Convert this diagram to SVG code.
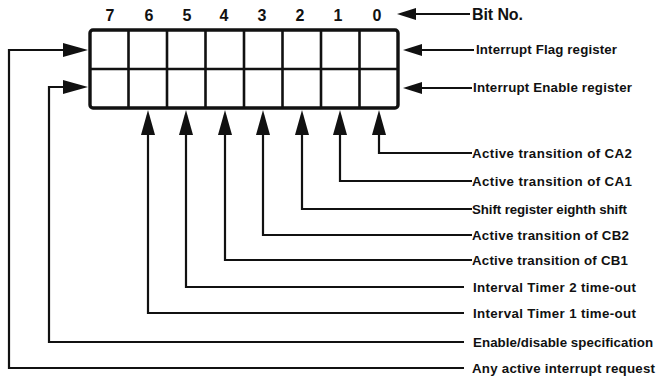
<svg xmlns="http://www.w3.org/2000/svg" width="657" height="377" viewBox="0 0 657 377">
  <style>
    .lbl { font-family: "Liberation Sans", Arial, sans-serif; font-size: 13.3px; font-weight: bold; fill: #111; }
    .bit { font-family: "Liberation Sans", Arial, sans-serif; font-size: 16px; font-weight: bold; fill: #111; text-anchor: middle; }
    .ttl { font-family: "Liberation Sans", Arial, sans-serif; font-size: 16px; font-weight: bold; fill: #111; }
    .wire { fill: none; stroke: #111; stroke-width: 2.2; stroke-linejoin: miter; }
    .frame { fill: #fff; stroke: #111; stroke-width: 3.4; }
    .cell { stroke: #111; stroke-width: 2.6; }
  </style>
  <defs>
    <marker id="ah" markerUnits="userSpaceOnUse" markerWidth="26" markerHeight="15" refX="20" refY="7" orient="auto">
      <path d="M0,0 L25,7 L0,14 Z" fill="#111"/>
    </marker>
    <marker id="ahs" markerUnits="userSpaceOnUse" markerWidth="20" markerHeight="13" refX="15" refY="6" orient="auto">
      <path d="M0,0 L19,6 L0,12 Z" fill="#111"/>
    </marker>
  </defs>

  <!-- bit numbers -->
  <g id="bit-numbers">
    <text class="bit" x="110" y="21">7</text>
    <text class="bit" x="149" y="21">6</text>
    <text class="bit" x="187" y="21">5</text>
    <text class="bit" x="224" y="21">4</text>
    <text class="bit" x="262" y="21">3</text>
    <text class="bit" x="300" y="21">2</text>
    <text class="bit" x="338" y="21">1</text>
    <text class="bit" x="377" y="21">0</text>
  </g>

  <!-- register pair: flag (top) and enable (bottom) -->
  <g id="registers">
    <rect class="frame" x="90" y="30" width="308" height="78" rx="3"/>
    <line class="cell" x1="90" y1="69" x2="398" y2="69"/>
    <line class="cell" x1="128.5" y1="30" x2="128.5" y2="108"/>
    <line class="cell" x1="167" y1="30" x2="167" y2="108"/>
    <line class="cell" x1="205.5" y1="30" x2="205.5" y2="108"/>
    <line class="cell" x1="244" y1="30" x2="244" y2="108"/>
    <line class="cell" x1="282.5" y1="30" x2="282.5" y2="108"/>
    <line class="cell" x1="321" y1="30" x2="321" y2="108"/>
    <line class="cell" x1="359.5" y1="30" x2="359.5" y2="108"/>
  </g>

  <!-- connectors -->
  <g id="connectors">
    <path class="wire" d="M470,14 H401" marker-end="url(#ahs)"/>
    <path class="wire" d="M474,50 H407" marker-end="url(#ahs)"/>
    <path class="wire" d="M472,88 H407" marker-end="url(#ahs)"/>

    <path class="wire" d="M472,153 H379 V115" marker-end="url(#ah)"/>
    <path class="wire" d="M472,181 H340 V115" marker-end="url(#ah)"/>
    <path class="wire" d="M472,209 H302 V115" marker-end="url(#ah)"/>
    <path class="wire" d="M472,235 H263 V115" marker-end="url(#ah)"/>
    <path class="wire" d="M472,260 H225 V115" marker-end="url(#ah)"/>
    <path class="wire" d="M464,287 H186 V115" marker-end="url(#ah)"/>
    <path class="wire" d="M464,313 H148 V115" marker-end="url(#ah)"/>
    <path class="wire" d="M464,342 H49 V87 H83" marker-end="url(#ah)"/>
    <path class="wire" d="M464,368 H9 V50 H83" marker-end="url(#ah)"/>
  </g>

  <!-- labels -->
  <g id="label-bitno"><text class="ttl" x="472" y="20" textLength="51">Bit No.</text></g>
  <g id="label-flag"><text class="lbl" x="476" y="54" textLength="141">Interrupt Flag register</text></g>
  <g id="label-enable"><text class="lbl" x="473" y="92" textLength="159">Interrupt Enable register</text></g>
  <g id="label-ca2"><text class="lbl" x="472" y="157.5" textLength="160">Active transition of CA2</text></g>
  <g id="label-ca1"><text class="lbl" x="472" y="185.5" textLength="160">Active transition of CA1</text></g>
  <g id="label-sr"><text class="lbl" x="472" y="213.5" textLength="155">Shift register eighth shift</text></g>
  <g id="label-cb2"><text class="lbl" x="472" y="239.5" textLength="157">Active transition of CB2</text></g>
  <g id="label-cb1"><text class="lbl" x="472" y="264.5" textLength="156">Active transition of CB1</text></g>
  <g id="label-t2"><text class="lbl" x="473" y="291.5" textLength="163">Interval Timer 2 time-out</text></g>
  <g id="label-t1"><text class="lbl" x="473" y="317.5" textLength="163">Interval Timer 1 time-out</text></g>
  <g id="label-ed"><text class="lbl" x="473" y="346.5" textLength="180">Enable/disable specification</text></g>
  <g id="label-any"><text class="lbl" x="472" y="372.5" textLength="183">Any active interrupt request</text></g>
</svg>
